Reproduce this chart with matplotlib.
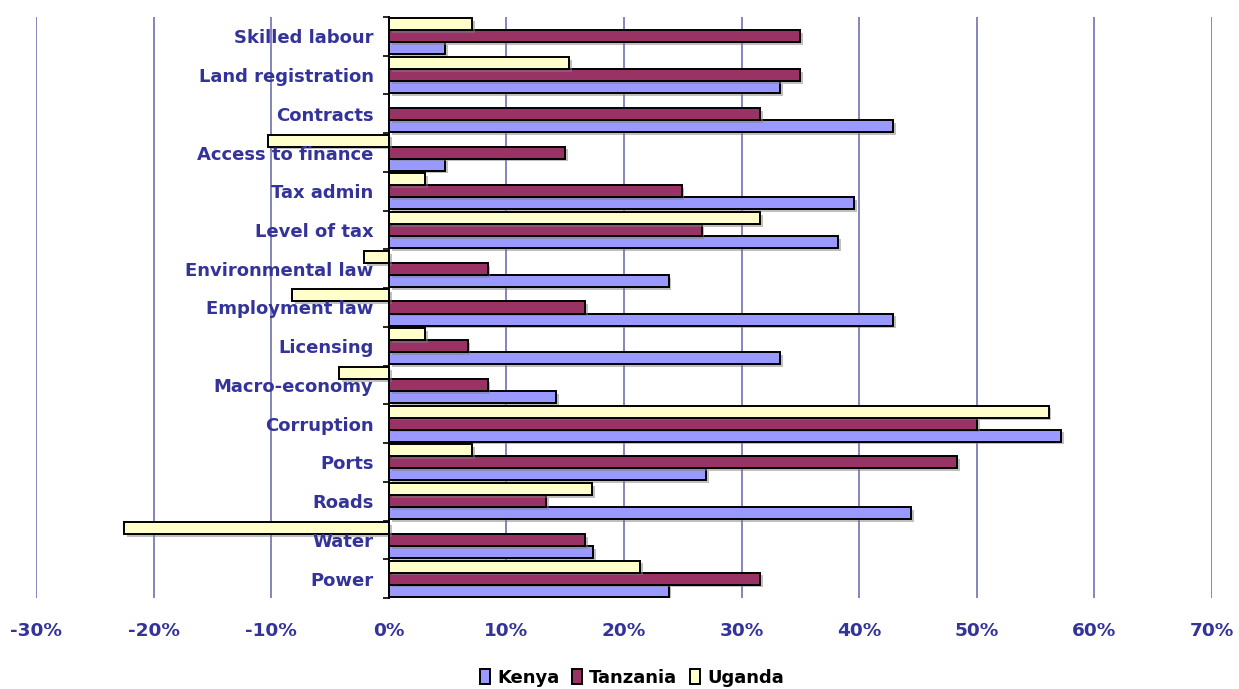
import matplotlib
matplotlib.use("Agg")
import matplotlib.pyplot as plt
import matplotlib.patheffects as pe
from matplotlib.ticker import FixedLocator, FuncFormatter
import numpy as np

# Categories listed bottom to top
categories = ["Power", "Water", "Roads", "Ports", "Corruption", "Macro-economy",
              "Licensing", "Employment law", "Environmental law", "Level of tax",
              "Tax admin", "Access to finance", "Contracts", "Land registration",
              "Skilled labour"]

kenya    = [23.8, 17.4, 44.4, 27.0, 57.2, 14.2, 33.3, 42.9, 23.8, 38.2, 39.6, 4.8, 42.9, 33.3, 4.8]
tanzania = [31.6, 16.7, 13.4, 48.3, 50.0, 8.4, 6.7, 16.7, 8.4, 26.6, 24.9, 15.0, 31.6, 35.0, 35.0]
uganda   = [21.4, -22.5, 17.3, 7.1, 56.1, -4.2, 3.1, -8.2, -2.1, 31.6, 3.1, -10.3, 0.0, 15.3, 7.1]

x_ticks = [-30, -20, -10, 0, 10, 20, 30, 40, 50, 60, 70]

series_names = ["Kenya", "Tanzania", "Uganda"]
series_colors = ["#9999FF", "#993366", "#FFFFCC"]
label_color = "#333399"
font_list = ["DejaVu Sans"]

fig = plt.figure(figsize=(12.39, 6.89), dpi=100)
ax = fig.add_axes([36 / 1239, 1 - 598 / 689, (1212 - 36) / 1239, (598 - 17) / 689])

y = np.arange(len(categories))
h = 0.31
shadow = [pe.SimplePatchShadow(offset=(2, -2), shadow_rgbFace="#808080", alpha=0.5), pe.Normal()]

handles = []
for k, (vals, name, col) in enumerate(zip([kenya, tanzania, uganda], series_names, series_colors)):
    offs = (k - 1) * h
    bars = ax.barh(y + offs, vals, height=h, color=col, edgecolor="black",
                   linewidth=1.4, zorder=1, label=name)
    for b in bars:
        if b.get_width() != 0:
            b.set_path_effects(shadow)
        else:
            b.set_visible(False)
    handles.append(bars)

# vertical gridlines
for t in x_ticks:
    if t != 0:
        ax.axvline(t, color="#6F6FB5", lw=1.2, zorder=0.5)

ax.set_xlim(-30, 70)
ax.set_ylim(-0.5, len(categories) - 0.5)

for side in ["top", "right", "bottom"]:
    ax.spines[side].set_visible(False)
ax.spines["left"].set_position(("data", 0))
ax.spines["left"].set_linewidth(1.4)
ax.spines["left"].set_zorder(3)

ax.set_yticks(y)
ax.set_yticklabels(categories, fontsize=13, fontweight="bold", color=label_color,
                   family=font_list)
ax.yaxis.set_minor_locator(FixedLocator(np.arange(-0.5, len(categories), 1.0)))
ax.tick_params(axis="y", which="major", length=0, pad=11)
ax.tick_params(axis="y", which="minor", length=4, width=1.2, color="black", direction="out")

ax.set_xticks(x_ticks)
ax.xaxis.set_major_formatter(FuncFormatter(lambda v, p: f"{int(v)}%"))
ax.tick_params(axis="x", length=0, pad=17, labelsize=13.3, labelcolor=label_color)
for lbl in ax.get_xticklabels():
    lbl.set_fontweight("bold")
    lbl.set_family(font_list)

leg = fig.legend(handles=handles, labels=series_names, loc="lower center",
                 bbox_to_anchor=(0.51, -0.02), ncol=3, frameon=False,
                 handlelength=0.55, handleheight=0.9, handletextpad=0.4,
                 columnspacing=0.7,
                 prop={"family": font_list, "weight": "bold", "size": 13})
for hnd in leg.legend_handles:
    hnd.set_path_effects([])

fig.savefig("out.png", dpi=100, facecolor="white")
